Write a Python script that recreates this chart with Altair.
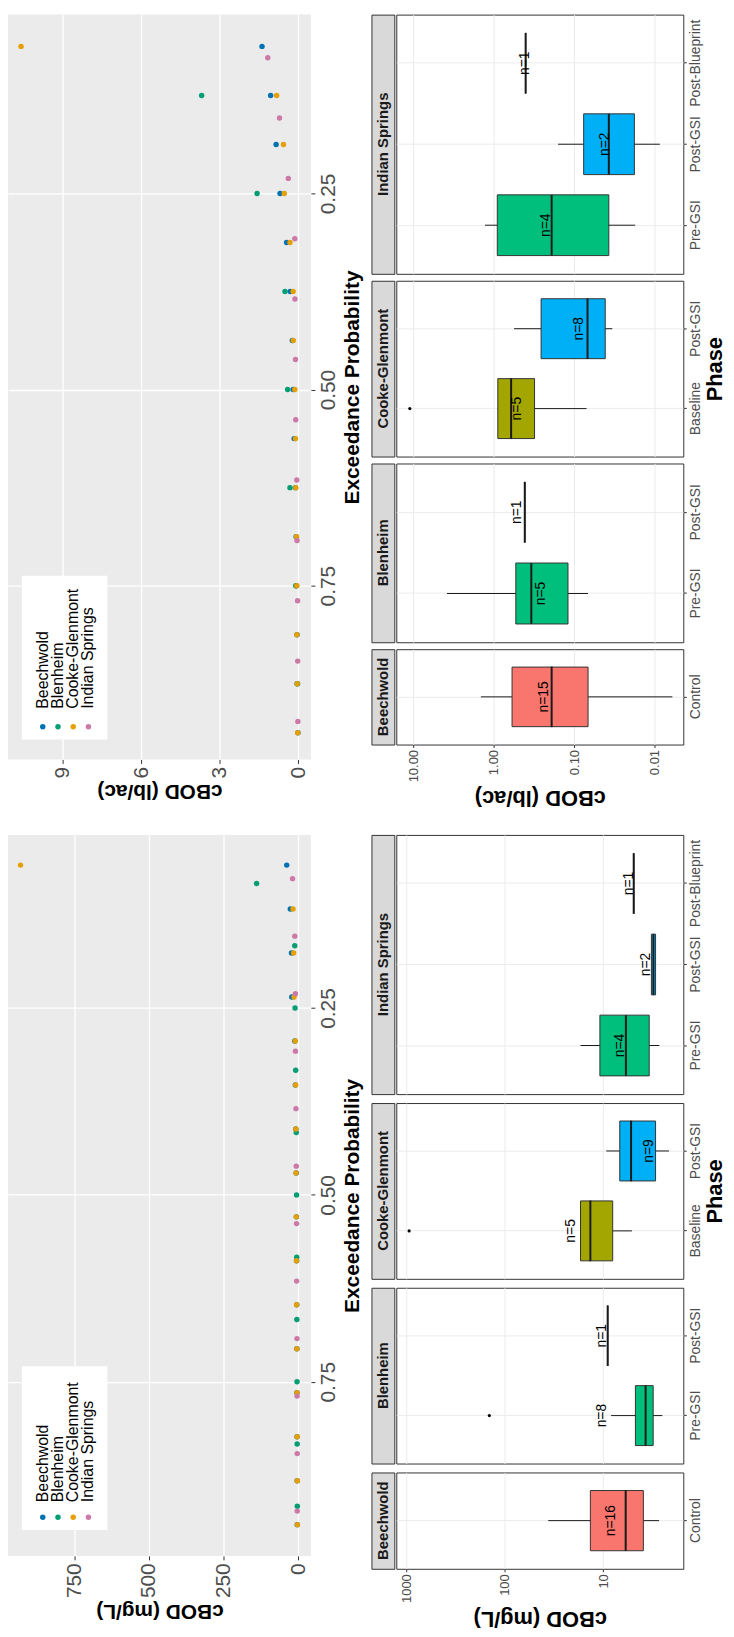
import altair as alt
import pandas as pd

FONT = "Liberation Sans"

SITES = ["Beechwold", "Blenheim", "Cooke-Glenmont", "Indian Springs"]
SITE_COLORS = ["#0072B2", "#009E73", "#E69F00", "#CC79A7"]

# ---- exceedance-curve samples, cBOD per site ----
LB_BEECHWOLD = [1.38, 1.05, 0.84, 0.69, 0.44, 0.30, 0.22, 0.19, 0.15, 0.10, 0.075, 0.06, 0.04, 0.02, 0.006]
LB_BLENHEIM = [3.69, 1.57, 0.50, 0.40, 0.31, 0.09, 0.04]
LB_COOKE = [10.6, 0.82, 0.56, 0.53, 0.31, 0.19, 0.185, 0.125, 0.10, 0.09, 0.06, 0.05, 0.045, 0.03, 0.01]
LB_INDIAN = [1.16, 0.71, 0.375, 0.125, 0.12, 0.10, 0.09, 0.05, 0.04, 0.02, 0.015, 0.008]

MG_BEECHWOLD = [38, 26, 22, 21, 11, 9, 7.5, 6.2, 5.6, 5.0, 4.5, 4.0, 3.85, 3.4, 3.0, 2.7]
MG_BLENHEIM = [139, 11, 10, 8, 6, 5, 4.5, 4, 3.5, 3, 2.5]
MG_COOKE = [930, 17, 15, 13.5, 9.3, 8, 7.5, 6.8, 6, 5.2, 5.1, 4, 3.5, 2.9, 2.5, 2.1]
MG_INDIAN = [18.5, 11, 9, 8.7, 7, 6, 5, 4.9, 3.6, 3.2, 2.9, 2.7]

# ---- box-plot summaries per site / phase ----
PHASE_ORDER = ["Control", "Baseline", "Pre-GSI", "Post-GSI", "Post-Blueprint"]
PHASE_COLORS = ["#F8766D", "#A3A500", "#00BF7D", "#00B0F6", "#E76BF3"]

BOX_SITE = ["Beechwold", "Blenheim", "Blenheim", "Cooke-Glenmont", "Cooke-Glenmont",
            "Indian Springs", "Indian Springs", "Indian Springs"]
BOX_PHASE = ["Control", "Pre-GSI", "Post-GSI", "Baseline", "Post-GSI",
             "Pre-GSI", "Post-GSI", "Post-Blueprint"]

MG_N = [16, 8, 1, 5, 9, 4, 2, 1]
MG_LOW = [2.7, 2.5, 9.0, 5.1, 2.14, 2.68, 2.93, 4.89]
MG_Q1 = [3.9, 3.1, 9.0, 8.0, 2.93, 3.4, 2.93, 4.89]
MG_MED = [5.9, 3.7, 9.0, 13.5, 5.2, 5.87, 3.08, 4.89]
MG_Q3 = [13.5, 4.7, 9.0, 17.0, 6.78, 10.8, 3.23, 4.89]
MG_UP = [36.2, 8.3, 9.0, 17.0, 9.3, 17.0, 3.23, 4.89]
MG_LABEL = [8.4, 10.3, 10.3, 21.1, 3.4, 6.75, 3.7, 5.4]
MG_OUT_SITE = ["Blenheim", "Cooke-Glenmont"]
MG_OUT_PHASE = ["Pre-GSI", "Baseline"]
MG_OUT_VAL = [144, 943]

LB_N = [15, 5, 1, 5, 8, 4, 2, 1]
LB_LOW = [0.006, 0.067, 0.41, 0.07, 0.0335, 0.0174, 0.0086, 0.40]
LB_Q1 = [0.067, 0.119, 0.41, 0.31, 0.041, 0.037, 0.0178, 0.40]
LB_MED = [0.19, 0.34, 0.41, 0.606, 0.068, 0.19, 0.037, 0.40]
LB_Q3 = [0.59, 0.53, 0.41, 0.887, 0.257, 0.90, 0.076, 0.40]
LB_UP = [1.44, 3.8, 0.41, 0.887, 0.557, 1.28, 0.158, 0.40]
LB_LABEL = [0.235, 0.256, 0.506, 0.506, 0.0863, 0.222, 0.0418, 0.41]
LB_OUT_SITE = ["Cooke-Glenmont"]
LB_OUT_PHASE = ["Baseline"]
LB_OUT_VAL = [11.0]

LABEL_GREY = "#4D4D4D"
DARK = "#333333"


def scatter_frame(series):
    rows = []
    for site, vals in zip(SITES, series):
        for v in vals:
            rows.append({"site": site, "value": v})
    return pd.DataFrame(rows)


def scatter_chart(df, x_domain, x_ticks, x_title, y_domain, width, height,
                  box_top, box_bottom, dot_y, txt_y):
    color = alt.Color("site:N", scale=alt.Scale(domain=SITES, range=SITE_COLORS), legend=None)
    base = (alt.Chart(df)
            .transform_joinaggregate(n="count()", groupby=["site"])
            .transform_window(rank="row_number()", groupby=["site"],
                              sort=[alt.SortField("value", order="descending")])
            .transform_calculate(p="datum.rank / (datum.n + 1)"))
    pts = base.mark_circle(size=30, opacity=1).encode(
        x=alt.X("value:Q",
                scale=alt.Scale(domain=x_domain, reverse=True, nice=False, zero=False),
                axis=alt.Axis(values=x_ticks, title=x_title, labelAngle=270, labelAlign="right",
                              labelBaseline="middle", titleAngle=180, titleBaseline="bottom",
                              grid=True, gridColor="white", gridWidth=1.3, domain=False,
                              tickColor=DARK, tickSize=4, labelFontSize=21, labelColor=LABEL_GREY,
                              labelPadding=3, titleFontSize=21, titleFontWeight="bold",
                              titleColor="black", titlePadding=3)),
        y=alt.Y("p:Q",
                scale=alt.Scale(domain=y_domain, reverse=True, nice=False, zero=False),
                axis=alt.Axis(orient="right", values=[0.25, 0.5, 0.75], format=".2f",
                              title="Exceedance Probability", labelAngle=270, labelAlign="center",
                              labelBaseline="top", titleAngle=270, titleBaseline="top",
                              grid=True, gridColor="white", gridWidth=1.3, domain=False,
                              tickColor=DARK, tickSize=4, labelFontSize=21, labelColor=LABEL_GREY,
                              labelPadding=3, titleFontSize=21, titleFontWeight="bold",
                              titleColor="black", titlePadding=3)),
        color=color,
    )
    one = pd.DataFrame({"k": [0]})
    leg_box = alt.Chart(one).mark_rect(color="white").encode(
        x=alt.value(14), x2=alt.value(100), y=alt.value(box_top), y2=alt.value(box_bottom))
    leg_df = pd.DataFrame({"site": SITES})
    leg_x = alt.X("site:N", scale=alt.Scale(type="point", domain=SITES, range=[35, 81], padding=0),
                  axis=None)
    leg_pts = alt.Chart(leg_df).mark_circle(size=30, opacity=1).encode(
        x=leg_x, y=alt.value(dot_y), color=color)
    leg_txt = alt.Chart(leg_df).mark_text(angle=270, align="left", baseline="middle",
                                          fontSize=16, color="black").encode(
        x=leg_x, y=alt.value(txt_y), text="site:N")
    return (alt.layer(pts, leg_box, leg_pts, leg_txt)
            .resolve_scale(x="independent")
            .properties(width=width, height=height,
                        view=alt.ViewBackground(fill="#EBEBEB", stroke=None)))


def box_column(n, low, q1, med, q3, up, lab, out_site, out_phase, out_val,
               x_domain, x_ticks, x_fmt, x_title, heights, spacing, panel_w):
    stats = pd.DataFrame({"site": BOX_SITE, "phase": BOX_PHASE, "low": low, "q1": q1,
                          "med": med, "q3": q3, "up": up, "lab": lab,
                          "nlab": ["n=%d" % k for k in n]})
    outl = pd.DataFrame({"site": out_site, "phase": out_phase, "val": out_val})
    order = list(reversed(SITES))
    rows = []
    for i, site in enumerate(order):
        last = i == len(order) - 1
        sdf = stats[stats.site == site]
        odf = outl[outl.site == site]
        phases = list(sdf.phase)
        h = heights[i]
        xs = alt.Scale(type="log", domain=x_domain, reverse=True, nice=False)
        if last:
            xaxis = alt.Axis(values=x_ticks, format=x_fmt, title=x_title, labelAngle=270,
                             labelAlign="right", labelBaseline="middle", titleAngle=180,
                             titleBaseline="bottom", grid=True, gridColor="#EBEBEB",
                             domain=False, tickColor=DARK, tickSize=3, labelFontSize=13,
                             labelColor=LABEL_GREY, labelPadding=2, titleFontSize=22,
                             titleFontWeight="bold", titleColor="black", titlePadding=4)
        else:
            xaxis = alt.Axis(values=x_ticks, labels=False, ticks=False, domain=False,
                             title=None, grid=True, gridColor="#EBEBEB")
        ys = alt.Scale(domain=list(reversed(phases)), paddingInner=0.25, paddingOuter=0.225)
        ytitle = "Phase" if site == "Cooke-Glenmont" else None
        yaxis = alt.Axis(orient="right", title=ytitle, labelAngle=270, labelAlign="center",
                         labelBaseline="top", labelFontSize=14, labelColor=LABEL_GREY,
                         tickColor=DARK, tickSize=3, labelPadding=2, domain=False,
                         grid=True, gridColor="#EBEBEB", titleAngle=270, titleBaseline="top",
                         titleFontSize=22, titleFontWeight="bold", titleColor="black",
                         titlePadding=2)
        Y = alt.Y("phase:N", scale=ys, axis=yaxis)
        base = alt.Chart(sdf)
        whisk = base.mark_rule(color="#1A1A1A", strokeWidth=1).encode(
            x=alt.X("low:Q", scale=xs, axis=xaxis), x2="up:Q", y=Y)
        box = base.mark_bar(stroke=DARK, strokeWidth=1, opacity=1).encode(
            x=alt.X("q1:Q", scale=xs, axis=xaxis), x2="q3:Q", y=Y,
            fill=alt.Fill("phase:N", scale=alt.Scale(domain=PHASE_ORDER, range=PHASE_COLORS),
                          legend=None))
        medl = base.mark_tick(color="#1A1A1A", thickness=2, size=61, opacity=1).encode(
            x=alt.X("med:Q", scale=xs, axis=xaxis), y=Y)
        txt = base.mark_text(angle=270, fontSize=14, color="black", baseline="middle",
                             align="center").encode(
            x=alt.X("lab:Q", scale=xs, axis=xaxis), y=Y, text="nlab:N")
        layers = [whisk, box, medl]
        if len(odf):
            layers.append(alt.Chart(odf).mark_circle(color="black", size=10, opacity=1).encode(
                x=alt.X("val:Q", scale=xs, axis=xaxis), y=Y))
        layers.append(txt)
        panel = alt.layer(*layers).properties(
            width=panel_w, height=h,
            view=alt.ViewBackground(fill="white", stroke=DARK, strokeWidth=1))
        strip = alt.Chart(pd.DataFrame({"site": [site]})).mark_text(
            angle=270, fontWeight="bold", fontSize=15, color="#1A1A1A").encode(
            text="site:N").properties(
            width=23, height=h, view=alt.ViewBackground(fill="#D9D9D9", stroke=DARK, strokeWidth=1))
        rows.append(alt.hconcat(strip, panel, spacing=0))
    return alt.vconcat(*rows, spacing=spacing)


sc_lb = scatter_chart(scatter_frame([LB_BEECHWOLD, LB_BLENHEIM, LB_COOKE, LB_INDIAN]),
                      [-0.49, 11.1], [0, 3, 6, 9], "cBOD (lb/ac)", [0.022, 0.9715], 305, 750,
                      565, 730, 717, 699)
sc_mg = scatter_frame([MG_BEECHWOLD, MG_BLENHEIM, MG_COOKE, MG_INDIAN])
sc_mg = scatter_chart(sc_mg, [-43, 972], [0, 250, 500, 750], "cBOD (mg/L)", [0.0184, 0.983],
                      305, 726, 535, 700, 687, 672)

bx_lb = box_column(LB_N, LB_LOW, LB_Q1, LB_MED, LB_Q3, LB_UP, LB_LABEL,
                   LB_OUT_SITE, LB_OUT_PHASE, LB_OUT_VAL,
                   [0.00439, 16.2], [0.01, 0.1, 1, 10], ".2f", "cBOD (lb/ac)",
                   [261, 177, 180, 96], 5, 289)
bx_mg = box_column(MG_N, MG_LOW, MG_Q1, MG_MED, MG_Q3, MG_UP, MG_LABEL,
                   MG_OUT_SITE, MG_OUT_PHASE, MG_OUT_VAL,
                   [1.53, 1274], [10, 100, 1000], "d", "cBOD (mg/L)",
                   [261, 177, 177, 97], 7, 289)

chart = alt.vconcat(
    alt.hconcat(sc_lb, bx_lb, spacing=8),
    alt.hconcat(sc_mg, bx_mg, spacing=8),
    spacing=24,
).properties(padding=0).configure(background="white", font=FONT).configure_axis(
    labelFont=FONT, titleFont=FONT).configure_text(font=FONT).configure_title(font=FONT)

chart.save("out.html", embed_options={"renderer": "svg", "actions": False})
